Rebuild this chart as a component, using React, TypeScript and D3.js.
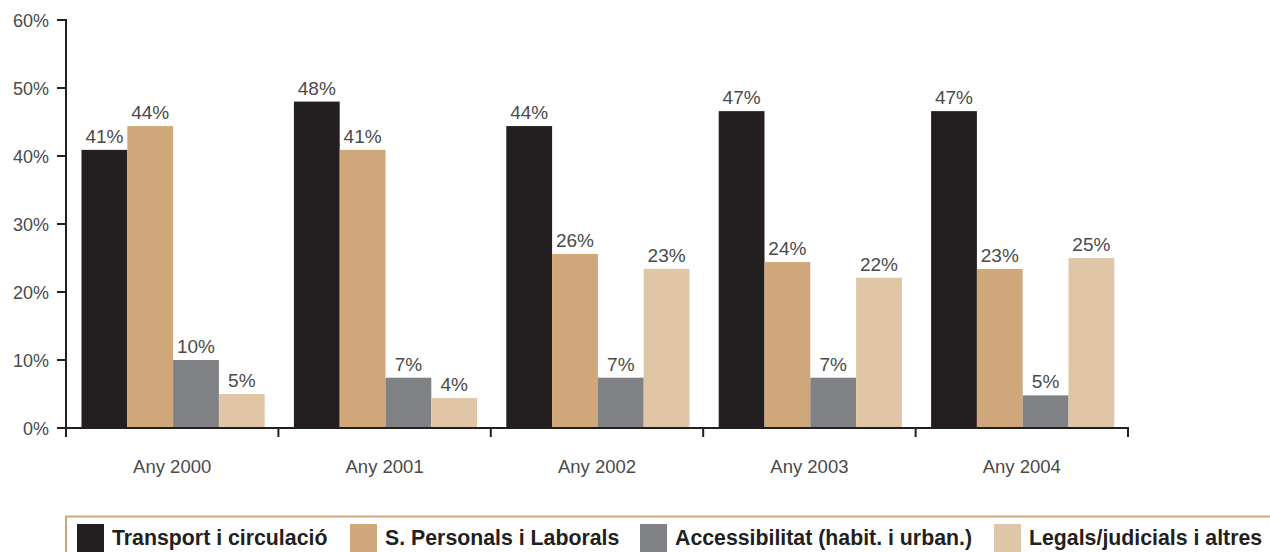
import * as d3 from "d3";

// values (percent)
const years = ["Any 2000", "Any 2001", "Any 2002", "Any 2003", "Any 2004"];
const series = [
  "Transport i circulació",
  "S. Personals i Laborals",
  "Accessibilitat (habit. i urban.)",
  "Legals/judicials i altres",
];
const transport = [40.9, 48.0, 44.4, 46.6, 46.6];
const personals = [44.4, 40.9, 25.6, 24.4, 23.4];
const accessibilitat = [10.0, 7.4, 7.4, 7.4, 4.8];
const legals = [5.0, 4.4, 23.4, 22.1, 25.0];
const yTicks = [0, 10, 20, 30, 40, 50, 60];

const colors = ["#231f20", "#cfa77a", "#808184", "#e0c6a6"];

export default function App() {
  const width = 1270;
  const height = 552;
  const marginLeft = 66;
  const axisRight = 1128;
  const y0 = 428;
  const yTop = 20;

  const values = [transport, personals, accessibilitat, legals];

  const x0 = d3.scaleBand(years, [marginLeft, axisRight]);
  const x1 = d3.scaleBand(series, [15.5, 198.7]);
  const y = d3.scaleLinear([0, 60], [y0, yTop]);
  const color = d3.scaleOrdinal(series, colors);

  const font = "'Liberation Sans', Arial, Helvetica, sans-serif";
  const boundaries = years.map((yr) => x0(yr)).concat([axisRight]);

  // legend positions
  const legendX = [77, 350, 640, 994];

  return (
    <div style={{ position: "absolute", left: 0, top: 0 }}>
      <svg width={width} height={height} style={{ display: "block" }} fontFamily={font}>
        {/* bars */}
        {years.map((yr, i) => (
          <g key={yr} transform={`translate(${x0(yr)},0)`}>
            {series.map((s, j) => {
              const v = values[j][i];
              return (
                <g key={s}>
                  <rect
                    x={x1(s)}
                    y={y(v)}
                    width={x1.bandwidth()}
                    height={y0 - y(v)}
                    fill={color(s)}
                  />
                  <text
                    x={x1(s)! + x1.bandwidth() / 2}
                    y={y(v) - 7}
                    textAnchor="middle"
                    fontSize={19}
                    fill="#4a4a4a"
                  >
                    {Math.round(v)}%
                  </text>
                </g>
              );
            })}
          </g>
        ))}

        {/* y axis */}
        <line x1={marginLeft} x2={marginLeft} y1={yTop - 1} y2={y0 + 1} stroke="#231f20" strokeWidth={2} />
        {yTicks.map((t) => (
          <g key={t}>
            <line x1={57} x2={marginLeft} y1={y(t)} y2={y(t)} stroke="#231f20" strokeWidth={2} />
            <text x={49} y={y(t) + 6.5} textAnchor="end" fontSize={18} fill="#4a4a4a">
              {t}%
            </text>
          </g>
        ))}

        {/* x axis */}
        <line x1={marginLeft - 1} x2={axisRight + 1} y1={y0} y2={y0} stroke="#231f20" strokeWidth={2} />
        {boundaries.map((b, i) => (
          <line key={i} x1={b} x2={b} y1={y0} y2={y0 + 9} stroke="#231f20" strokeWidth={2} />
        ))}
        {years.map((yr) => (
          <text
            key={yr}
            x={x0(yr)! + x0.bandwidth() / 2}
            y={473}
            textAnchor="middle"
            fontSize={18.5}
            fill="#4a4a4a"
          >
            {yr}
          </text>
        ))}

        {/* legend */}
        <line x1={65} x2={width} y1={516.5} y2={516.5} stroke="#cfa77a" strokeWidth={2} />
        <line x1={66} x2={66} y1={516} y2={height} stroke="#cfa77a" strokeWidth={2} />
        {series.map((s, j) => (
          <g key={s}>
            <rect x={legendX[j]} y={524} width={27} height={30} fill={color(s)} />
            <text
              x={legendX[j] + 35}
              y={545}
              fontSize={21.3}
              fontWeight="bold"
              fill="#231f20"
            >
              {s}
            </text>
          </g>
        ))}
      </svg>
    </div>
  );
}
